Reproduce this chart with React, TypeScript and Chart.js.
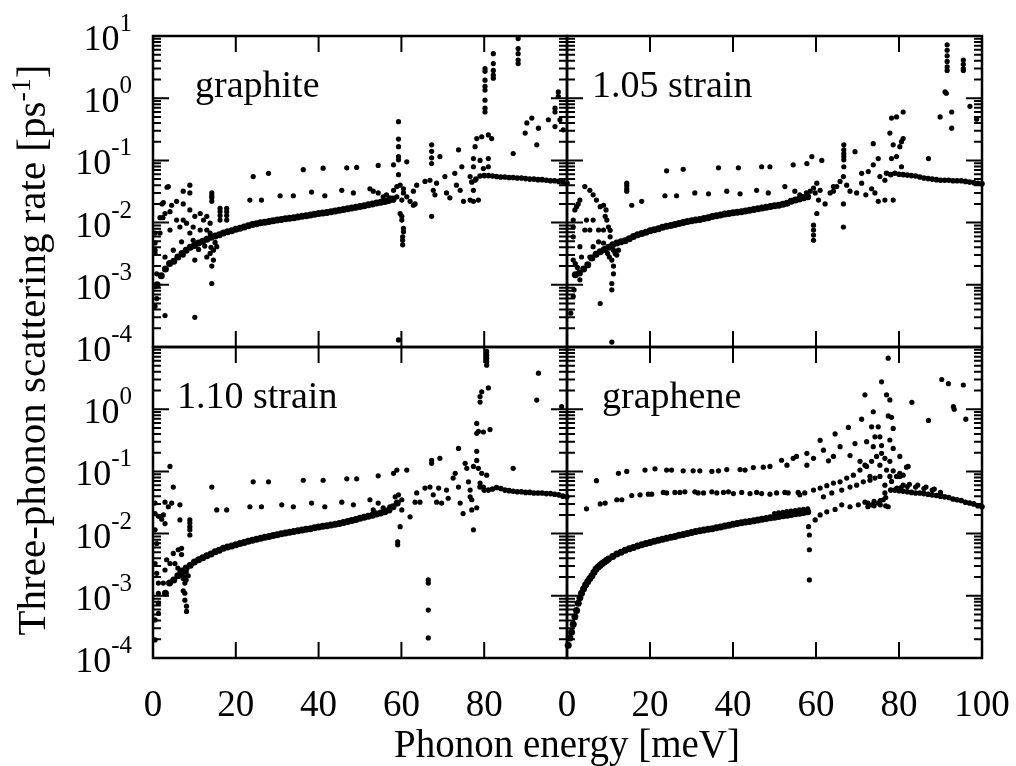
import React, { useEffect, useRef } from "react";
import { Chart, registerables } from "chart.js";

Chart.register(...registerables);

type P = [number, number];

const FONT = '"Liberation Serif", "Times New Roman", serif';

const xTickValues = [0, 20, 40, 60, 80, 100];
const xLabelsLeft = [0, 20, 40, 60, 80];
const xLabelsRight = [0, 20, 40, 60, 80, 100];
const yExponentsTop = [1, 0, -1, -2, -3, -4];
const yExponentsBottom = [0, -1, -2, -3, -4];
const panelNames = ["graphite", "1.05 strain", "1.10 strain", "graphene"];
const xTitle = "Phonon energy [meV]";
const yTitleMain = "Three-phonon scattering rate [ps";
const yTitleSup = "-1";
const yTitleEnd = "]";

// ---------------- graphite ----------------
const graphiteMain: P[] = [[1,1.0e-3],[2,1.4e-3],[3,1.8e-3],[4,2.2e-3],[5,2.4e-3],[6,2.8e-3],[7,3.2e-3],[8,3.6e-3],[9,4.0e-3],[10,4.3e-3],[11,4.7e-3],[12,5.0e-3],[13,5.4e-3],[14,5.8e-3],[15,6.1e-3],[16,6.4e-3],[17,6.8e-3],[18,7.1e-3],[19,7.4e-3],[20,7.8e-3],[21,8.1e-3],[22,8.5e-3],[23,8.9e-3],[24,9.3e-3],[25,9.6e-3],[26,9.9e-3],[27,1.01e-2],[28,1.04e-2],[29,1.07e-2],[30,1.1e-2],[31,1.12e-2],[32,1.15e-2],[33,1.18e-2],[34,1.2e-2],[35,1.23e-2],[36,1.26e-2],[37,1.29e-2],[38,1.32e-2],[39,1.36e-2],[40,1.4e-2],[41,1.43e-2],[42,1.46e-2],[43,1.49e-2],[44,1.53e-2],[45,1.58e-2],[46,1.62e-2],[47,1.67e-2],[48,1.72e-2],[49,1.77e-2],[50,1.82e-2],[51,1.87e-2],[52,1.93e-2],[53,1.99e-2],[54,2.06e-2],[55,2.12e-2],[56,2.18e-2],[57,2.28e-2],[58,2.4e-2]];
const graphiteFlat: P[] = [[77,0.045],[78,0.05],[79,0.056],[80,0.057],[81,0.057],[82,0.056],[83,0.055],[84,0.054],[85,0.054],[86,0.053],[87,0.053],[88,0.052],[89,0.052],[90,0.051],[91,0.05],[92,0.05],[93,0.049],[94,0.049],[95,0.048],[96,0.047],[97,0.047],[98,0.046],[99,0.045],[100,0.043]];
const graphiteScatter: P[] = [
  [3.7,0.038],[7.3,0.032],[8.9,0.04],[8.9,0.03],[5.7,0.022],[2.5,0.021],[4.5,0.019],[7.3,0.02],[4.1,0.015],[2.9,0.014],[1.7,0.012],[5.7,0.011],[7.3,0.011],[8.9,0.016],[10.1,0.0126],[11.4,0.014],[12.2,0.011],[13.0,0.0126],[13.8,0.0098],[6.5,0.0085],[8.1,0.0098],[9.7,0.0085],[4.1,0.0076],[1.7,0.0068],[0.5,0.0068],[8.9,0.0068],[11.4,0.0076],[13.0,0.0076],[13.8,0.0068],
  [2.2,0.02],[2.4,0.012],[3.4,0.037],
  [14.2,0.03],[14.2,0.027],[14.2,0.025],[14.2,0.022],[16.2,0.017],[16.2,0.015],[16.2,0.013],[16.2,0.011],[17.8,0.017],[17.8,0.015],[17.8,0.013],[17.8,0.011],
  [6.9,0.0049],[9.7,0.0052],[4.9,0.0036],[0.5,0.0032],[2.9,0.0028],[7.3,0.003],[10.1,0.0025],[13.0,0.0028],[13.8,0.0032],[14.6,0.0036],[15.4,0.0041],[14.6,0.0025],[14.2,0.002],[14.2,0.00105],[0.5,0.0047],[0.5,0.0036],[0.9,0.0015],[0.5,4.5e-4],[2.9,3.2e-4],[10.1,3.0e-4],[0.9,6e-4],[0.5,9.3e-4],
  [12.5,0.0042],[11.0,0.0037],[15.0,0.0048],[14.0,0.004],
  [24.2,0.055],[27.9,0.062],[36.3,0.071],[41.1,0.075],[46.8,0.076],[49.2,0.077],[54.4,0.083],[58.1,0.085],
  [23.4,0.023],[26.2,0.023],[30.7,0.027],[33.9,0.027],[38.3,0.031],[41.5,0.027],[45.6,0.033],[48.4,0.03],[52.4,0.035],
  [53.2,0.032],[54.4,0.03],[55.6,0.026],[56.4,0.028],[57.2,0.025],[58.1,0.033],[58.9,0.038],[59.7,0.04],[60.5,0.035],[60.5,0.03],[61.3,0.026],[62.1,0.022],[62.9,0.019],[58.1,0.023],[56.8,0.022],[58.9,0.026],[60.1,0.023],
  [59.3,0.42],[59.3,0.22],[59.3,0.166],[59.3,0.115],[59.3,0.102],[59.3,0.059],[61.3,0.095],
  [59.7,0.014],[60.1,0.0126],[60.1,0.011],[60.5,0.0081],[60.5,0.0071],[60.3,0.0059],[60.3,0.0052],[60.3,0.0044],[59.3,1.3e-4],
  [63.7,0.04],[62.9,0.032],[63.3,0.02],[65.7,0.046],[66.9,0.048],[67.7,0.033],[68.5,0.043],[67.3,0.0126],[68.1,0.028],[70.5,0.055],[70.9,0.03],[71.7,0.025],[72.9,0.062],[73.3,0.04],[74.2,0.033],[74.6,0.079],[75.0,0.022],[76.6,0.023],[77.4,0.022],[78.6,0.023],[77.4,0.033],[77.8,0.048],[76.6,0.055],
  [67.3,0.178],[67.3,0.14],[67.3,0.11],[67.3,0.089],[69.3,0.115],[73.8,0.148],
  [77.4,0.107],[79.0,0.1],[81.0,0.107],[77.8,0.166],[78.2,0.224],[79.4,0.24],[81.0,0.257],[81.8,0.224],[77.4,0.079],[79.8,0.074],[81.0,0.079],
  [80.2,3.0],[80.2,2.7],[80.2,1.95],[80.2,1.55],[80.2,1.35],[80.2,0.93],[80.2,0.69],[80.2,0.6],
  [82.2,5.2],[82.2,3.6],[82.2,2.8],[82.2,2.35],[82.2,2.1],
  [88.2,9.1],[88.2,6.3],[88.2,5.2],[88.2,4.1],[88.2,3.6],
  [87.0,0.129],[89.9,0.275],[90.3,0.4],[91.5,0.48],[92.7,0.178],[93.1,0.33],[95.5,0.45],[97.1,0.35],[97.1,0.69],[97.1,0.6],[97.9,1.26],[97.9,1.07],[99.1,0.31],[98.3,0.45]
];

// ---------------- 1.05 strain ----------------
const strain105Main: P[] = [[2,1.45e-3],[3,1.55e-3],[4,1.8e-3],[5,2.1e-3],[6,2.7e-3],[7,3.1e-3],[8,3.4e-3],[9,3.7e-3],[10,4.0e-3],[11,4.4e-3],[12,4.7e-3],[13,4.9e-3],[14,5.1e-3],[15,5.5e-3],[16,6.0e-3],[17,6.4e-3],[18,6.7e-3],[19,7.0e-3],[20,7.4e-3],[21,7.7e-3],[22,8.0e-3],[23,8.4e-3],[24,8.7e-3],[25,9.0e-3],[26,9.3e-3],[27,9.7e-3],[28,1.0e-2],[29,1.04e-2],[30,1.07e-2],[31,1.1e-2],[32,1.12e-2],[33,1.16e-2],[34,1.2e-2],[35,1.25e-2],[36,1.29e-2],[37,1.33e-2],[38,1.37e-2],[39,1.4e-2],[40,1.44e-2],[41,1.47e-2],[42,1.5e-2],[43,1.54e-2],[44,1.58e-2],[45,1.62e-2],[46,1.67e-2],[47,1.72e-2],[48,1.77e-2],[49,1.82e-2],[50,1.86e-2],[51,1.9e-2],[52,1.97e-2],[53,2.05e-2],[54,2.2e-2],[55,2.3e-2],[56,2.4e-2],[57,2.5e-2],[58,2.6e-2]];
const strain105Flat: P[] = [[77,0.062],[78,0.059],[79,0.062],[80,0.06],[81,0.059],[82,0.058],[83,0.057],[84,0.056],[85,0.054],[86,0.052],[87,0.051],[88,0.05],[89,0.049],[90,0.048],[91,0.048],[92,0.048],[93,0.047],[94,0.047],[95,0.047],[96,0.046],[97,0.045],[98,0.044],[99,0.043],[100,0.042]];
const strain105Scatter: P[] = [
  [1.5,0.011],[1.9,0.016],[2.7,0.02],[3.1,0.023],[4.3,0.038],[5.5,0.033],[6.3,0.028],[7.1,0.023],[8.0,0.018],[8.8,0.019],[9.2,0.0126],[9.6,0.011],[10.0,0.0085],[10.4,0.0059],[6.3,0.011],[4.7,0.011],[5.5,0.0076],[7.6,0.0076],[8.8,0.0076],[4.3,0.0076],[3.1,0.0041],[3.5,0.0028],[6.3,0.0041],[7.6,0.0049],[8.8,0.0047],[5.5,0.0028],[3.1,0.0012],[1.7,8.3e-4],[1.5,6.5e-4],[0.9,3.5e-4],[11.2,0.0036],[10.8,0.0025],[11.2,0.002],[11.2,0.0015],[10.8,0.00105],[10.8,8.3e-4],[11.6,0.0032],[12.4,0.0036],[8.0,5.0e-4],[10.8,1.2e-4],[1.5,0.0059],[1.5,0.0085],[1.5,0.0025],
  [2.3,0.018],[9.4,0.016],[10.4,0.0075],[2.0,0.0022],[2.5,0.0019],[9.8,0.0032],[10.2,0.0028],[12.0,0.003],
  [14.4,0.043],[14.4,0.039],[14.4,0.035],[14.4,0.032],[15.6,0.019],[18.0,0.022],
  [24.0,0.068],[28.0,0.072],[36.5,0.076],[41.3,0.076],[46.9,0.079],[48.9,0.079],[54.5,0.085],[57.8,0.089],[59.0,0.115],[61.4,0.1],
  [23.6,0.027],[26.4,0.027],[30.8,0.03],[34.1,0.029],[38.5,0.032],[41.7,0.029],[45.7,0.033],[48.5,0.03],[52.5,0.038],
  [54.9,0.032],[56.1,0.028],[56.9,0.026],[57.7,0.03],[58.6,0.032],[59.4,0.036],[60.2,0.043],[59.8,0.03],[60.6,0.023],[61.0,0.033],[62.2,0.02],[63.4,0.03],[64.2,0.032],[65.0,0.038],
  [59.4,0.0091],[59.4,0.0076],[59.4,0.0063],[59.4,0.0052],[60.2,0.014],
  [66.7,0.178],[66.7,0.148],[66.7,0.129],[66.7,0.115],[66.7,0.102],[66.7,0.079],[69.4,0.138],[66.6,0.055],[66.6,0.02],[66.6,0.0085],
  [64.2,0.038],[65.8,0.046],[67.4,0.04],[68.2,0.032],[69.8,0.03],[71.0,0.043],[71.0,0.062],[72.6,0.066],[73.4,0.035],[74.2,0.03],[72.0,0.028],[73.8,0.085],[75.0,0.107],[75.4,0.055],[76.6,0.048],[75.0,0.022],[76.6,0.023],[78.6,0.023],[73.8,0.186],
  [78.2,0.107],[79.4,0.115],[80.6,0.079],[77.8,0.275],[78.6,0.178],[80.2,0.166],[80.6,0.2],[81.0,0.224],[78.2,0.48],[79.4,0.5],[81.0,0.6],
  [87.1,0.107],[89.9,0.5],[91.1,1.26],[91.4,1.2],[92.7,0.6],[92.7,0.33],[97.1,0.74],[98.7,0.46],
  [91.6,7.2],[91.6,5.9],[91.6,4.8],[91.6,3.9],[91.6,3.2],[91.6,2.8],[95.5,4.1],[95.5,3.5],[95.5,3.0],[95.5,2.8]
];

// ---------------- 1.10 strain ----------------
const strain110Main: P[] = [[3,1.1e-3],[4,1.6e-3],[5,1.8e-3],[6,2.1e-3],[7,2.5e-3],[8,2.8e-3],[9,3.1e-3],[10,3.5e-3],[11,3.8e-3],[12,4.1e-3],[13,4.4e-3],[14,4.7e-3],[15,5.1e-3],[16,5.4e-3],[17,5.8e-3],[18,6.1e-3],[19,6.3e-3],[20,6.6e-3],[21,6.9e-3],[22,7.2e-3],[23,7.5e-3],[24,7.8e-3],[25,8.1e-3],[26,8.4e-3],[27,8.7e-3],[28,9.0e-3],[29,9.3e-3],[30,9.6e-3],[31,9.9e-3],[32,1.02e-2],[33,1.05e-2],[34,1.08e-2],[35,1.11e-2],[36,1.14e-2],[37,1.17e-2],[38,1.2e-2],[39,1.24e-2],[40,1.28e-2],[41,1.31e-2],[42,1.34e-2],[43,1.37e-2],[44,1.41e-2],[45,1.46e-2],[46,1.51e-2],[47,1.57e-2],[48,1.63e-2],[49,1.69e-2],[50,1.76e-2],[51,1.83e-2],[52,1.9e-2],[53,1.98e-2],[54,2.06e-2],[55,2.15e-2],[56,2.24e-2],[57,2.4e-2],[58,2.7e-2],[59,3.1e-2]];
const strain110Flat: P[] = [[79,0.056],[80,0.05],[81,0.05],[82,0.052],[83,0.055],[84,0.053],[85,0.05],[86,0.049],[87,0.048],[88,0.047],[89,0.047],[90,0.046],[91,0.046],[92,0.045],[93,0.045],[94,0.045],[95,0.044],[96,0.044],[97,0.043],[98,0.042],[99,0.04],[100,0.039]];
const strain110Scatter: P[] = [
  [0.5,0.031],[0.5,0.021],[1.3,0.019],[2.1,0.017],[2.5,0.02],[2.9,0.0145],[0.5,0.0115],[0.9,0.0069],[0.5,0.0033],[0.9,0.0023],[1.3,0.0016],[1.3,0.0011],[1.3,7.6e-4],[1.3,5.2e-4],[0.5,4.1e-4],[0.5,1.95e-4],
  [4.1,0.12],[4.9,0.056],[4.5,0.031],[3.7,0.027],[2.9,0.032],[6.5,0.029],[6.5,0.0166],[8.9,0.0166],[8.9,0.0148],[8.9,0.0129],[8.9,0.0115],[8.9,0.0095],
  [4.9,0.0048],[6.1,0.0055],[6.9,0.0058],[6.9,0.0046],[3.3,0.0038],[4.1,0.0033],[2.9,0.0026],[2.5,0.0016],[5.3,0.0033],[7.3,0.0012],[7.7,0.0011],[7.7,8.5e-4],[8.1,6.8e-4],[8.1,5.6e-4],[7.7,0.0016],[7.3,0.0019],
  [6.5,0.0025],[7.0,0.0022],[7.5,0.002],[8.0,0.0024],[8.5,0.0021],[6.0,0.0028],[8.0,0.0018],
  [14.2,0.056],[15.4,0.024],[17.8,0.024],
  [24.2,0.068],[27.9,0.068],[36.3,0.072],[41.1,0.072],[46.8,0.076],[49.2,0.076],[54.4,0.085],[58.1,0.093],[58.9,0.105],[61.3,0.105],
  [23.4,0.027],[26.2,0.027],[31.1,0.029],[33.9,0.027],[38.3,0.031],[41.5,0.027],[45.6,0.032],[48.4,0.029],[52.4,0.035],[54.4,0.031],[53.2,0.024],[55.6,0.026],[57.2,0.027],[58.5,0.039],[59.3,0.042],[60.1,0.035],[60.1,0.024],[59.7,0.0129],[59.1,0.0074],[59.1,0.0066],
  [62.1,0.0186],[63.3,0.032],[63.7,0.045],[64.5,0.032],[65.7,0.054],[66.9,0.056],[67.7,0.042],[68.5,0.032],[69.7,0.031],[69.0,0.054],[70.9,0.05],[71.3,0.037],[72.5,0.078],[73.0,0.093],[73.8,0.056],[74.2,0.031],[74.9,0.021],[75.4,0.135],[75.8,0.112],[76.2,0.068],[76.6,0.05],[76.6,0.039],[77.0,0.035],[77.0,0.024],[77.4,0.0115],[78.2,0.026],
  [67.3,0.151],[67.3,0.135],[69.3,0.162],[73.8,0.234],[66.5,0.0018],[66.5,0.0016],[66.5,5.9e-4],[66.5,2.1e-4],
  [80.6,8.5],[80.6,7.4],[80.6,6.6],[80.6,5.8],[80.6,5.1],[81.0,2.2],[79.4,1.9],[79.0,1.6],[79.0,1.3],[78.2,0.59],[78.2,0.41],[78.6,0.44],[79.8,0.43],[81.4,0.47],[78.2,0.21],[78.2,0.15],[77.4,0.12],[78.6,0.112],[79.4,0.093],[80.6,0.087],[79.0,0.065],[79.8,0.056],
  [87.0,0.112],[93.1,3.8],[92.7,1.4],[98.7,1.1]
];

// ---------------- graphene ----------------
const grapheneMain: P[] = [[0.3,1.6e-4],[0.7,2.1e-4],[1.1,2.6e-4],[1.5,3.5e-4],[1.9,4.6e-4],[2.3,5.8e-4],[2.7,7.6e-4],[3.1,9.3e-4],[3.5,1.1e-3],[4.0,1.3e-3],[4.5,1.5e-3],[5.0,1.7e-3],[5.5,1.9e-3],[6.0,2.1e-3],[6.5,2.4e-3],[7.0,2.7e-3],[7.5,2.9e-3],[8,3.1e-3],[8.5,3.3e-3],[9,3.5e-3],[9.5,3.7e-3],[10,3.9e-3],[11,4.3e-3],[12,4.7e-3],[13,5.0e-3],[14,5.4e-3],[15,5.7e-3],[16,6.0e-3],[17,6.3e-3],[18,6.6e-3],[19,6.9e-3],[20,7.2e-3],[21,7.5e-3],[22,7.8e-3],[23,8.1e-3],[24,8.4e-3],[25,8.7e-3],[26,9.0e-3],[27,9.4e-3],[28,9.7e-3],[29,1.0e-2],[30,1.04e-2],[31,1.08e-2],[32,1.11e-2],[33,1.14e-2],[34,1.17e-2],[35,1.2e-2],[36,1.24e-2],[37,1.28e-2],[38,1.32e-2],[39,1.36e-2],[40,1.41e-2],[41,1.45e-2],[42,1.49e-2],[43,1.53e-2],[44,1.57e-2],[45,1.61e-2],[46,1.66e-2],[47,1.7e-2],[48,1.75e-2],[49,1.79e-2],[50,1.83e-2],[51,1.88e-2],[52,1.93e-2],[53,1.98e-2],[54,2.03e-2],[55,2.08e-2],[56,2.13e-2],[57,2.18e-2],[58,2.24e-2]];
const grapheneFlat: P[] = [[78,0.05],[79,0.05],[80,0.049],[81,0.048],[82,0.047],[83,0.046],[84,0.045],[85,0.045],[86,0.044],[87,0.043],[88,0.042],[89,0.041],[90,0.04],[91,0.039],[92,0.038],[93,0.036],[94,0.035],[95,0.034],[96,0.032],[97,0.031],[98,0.03],[99,0.028],[100,0.027]];
const grapheneScatter: P[] = [
  [50,0.021],[51,0.0215],[52,0.022],[53,0.0225],[54,0.023],[55,0.0235],[56,0.024],[57,0.0245],[58,0.025],[55.5,0.0225],[56.5,0.023],[57.5,0.0235],
  [79.5,0.054],[80.5,0.055],[81,0.06],[82,0.057],[82.5,0.062],[84,0.056],[84.5,0.06],[86,0.053],[86.5,0.056],[88,0.05],[88.5,0.052],[90,0.046],
  [4.7,0.025],[8.0,0.03],[9.2,0.031],[12.0,0.035],[13.2,0.035],[15.6,0.041],[17.6,0.042],[19.6,0.043],[20.4,0.043],[23.2,0.046],[24.0,0.045],[26.0,0.046],[27.2,0.046],[28.4,0.047],[30.8,0.047],[31.6,0.045],[32.9,0.045],[34.9,0.047],[36.1,0.045],[37.7,0.046],[38.9,0.047],[40.1,0.044],[42.1,0.046],[44.1,0.044],[45.7,0.046],[46.9,0.044],[48.9,0.043],[50.5,0.045],[52.5,0.046],[53.3,0.045],[55.7,0.046],[56.1,0.042],[57.3,0.045],
  [59.4,0.05],[61.0,0.054],[62.6,0.059],[64.2,0.065],[65.8,0.068],[67.4,0.078],[69.0,0.087],[70.6,0.105],[72.2,0.12],[73.4,0.145],[74.6,0.174],[75.8,0.195],[73.8,0.25],[76.6,0.162],[77.8,0.145],
  [61.8,0.039],[63.8,0.045],[66.2,0.05],[68.2,0.056],[69.8,0.06],[71.4,0.068],[73.0,0.072],[74.2,0.078],[75.4,0.083],[70.6,0.145],[71.8,0.126],[73.0,0.083],[75.4,0.126],[77.0,0.105],[77.8,0.083],[78.2,0.069],[78.6,0.102],[79.4,0.083],[80.2,0.093],[81.0,0.087],[82.2,0.12],[81.8,0.117],[80.2,0.083],
  [59.8,0.0166],[61.0,0.02],[62.6,0.0224],[64.6,0.0245],[66.2,0.029],[68.2,0.027],[70.2,0.029],[71.8,0.032],[73.4,0.029],[75.0,0.031],[76.2,0.035],[77.4,0.027],[76.6,0.045],[76.6,0.06],
  [72.5,0.027],[72.5,0.031],[74,0.028],[74,0.033],[75.5,0.029],[75.5,0.034],[76.8,0.028],[76.8,0.038],
  [58.2,0.0129],[58.4,0.0095],[58.4,0.0055],[58.4,0.0018],
  [7.1,0.071],[12.4,0.093],[14.4,0.1],[18.8,0.105],[21.2,0.11],[24.0,0.105],[25.2,0.105],[28.0,0.102],[30.4,0.102],[32.0,0.102],[34.9,0.1],[36.5,0.102],[38.5,0.107],[41.7,0.107],[42.9,0.105],[44.9,0.115],[47.3,0.117],[48.9,0.12],[51.7,0.151],[53.0,0.126],[54.5,0.162],[55.3,0.174],[57.8,0.195],[57.8,0.126],[59.4,0.162],[61.8,0.219],[63.0,0.148],[64.2,0.174],[61.0,0.316],[64.6,0.4],[65.8,0.25],[67.8,0.51],[68.2,0.18],[69.4,0.28],[71.0,0.69],[71.8,1.7],[72.2,0.3],[73.4,0.52],[73.8,0.91],[74.2,0.36],[75.0,0.52],[75.4,0.36],[75.8,2.75],[75.8,0.26],[77.0,1.7],[77.4,6.6],[77.8,1.41],[77.4,0.78],[78.2,0.74],[78.6,0.49],[77.8,0.32],[78.6,0.234],[80.2,0.174],[83.1,1.29],[87.1,0.66],[90.3,3.0],[91.9,2.57],[93.1,1.1],[93.3,1.0],[95.5,2.45],[96.1,0.69]
];

type Panel = {
  name: string;
  area: { l: number; t: number; r: number; b: number };
  main: P[];
  flat: P[];
  scatter: P[];
  yExps: number[];
  xLabels: number[];
  labelPos: [number, number];
  yTitle?: boolean;
  xTitle?: boolean;
};

const panels: Panel[] = [
  { name: panelNames[0], area: { l: 153, t: 36, r: 567, b: 347 }, main: graphiteMain, flat: graphiteFlat, scatter: graphiteScatter, yExps: yExponentsTop, xLabels: [], labelPos: [195, 97], yTitle: true },
  { name: panelNames[1], area: { l: 567, t: 36, r: 982, b: 347 }, main: strain105Main, flat: strain105Flat, scatter: strain105Scatter, yExps: [], xLabels: [], labelPos: [592, 97] },
  { name: panelNames[2], area: { l: 153, t: 347, r: 567, b: 658 }, main: strain110Main, flat: strain110Flat, scatter: strain110Scatter, yExps: yExponentsBottom, xLabels: xLabelsLeft, labelPos: [177, 408] },
  { name: panelNames[3], area: { l: 567, t: 347, r: 982, b: 658 }, main: grapheneMain, flat: grapheneFlat, scatter: grapheneScatter, yExps: [], xLabels: xLabelsRight, labelPos: [602, 408], xTitle: true },
];

function makeFrame(p: Panel) {
  return {
    id: "frame" + p.name.replace(/[^a-z0-9]/gi, ""),
    afterDatasetsDraw(chart: any) {
      const ctx: CanvasRenderingContext2D = chart.ctx;
      const a = chart.chartArea;
      const xs = chart.scales.x;
      const ys = chart.scales.y;
      ctx.save();
      ctx.strokeStyle = "#000";
      ctx.fillStyle = "#000";
      ctx.lineWidth = 2;
      ctx.beginPath();
      for (const v of xTickValues) {
        const px = xs.getPixelForValue(v);
        ctx.moveTo(px, a.bottom);
        ctx.lineTo(px, a.bottom - 16);
        ctx.moveTo(px, a.top);
        ctx.lineTo(px, a.top + 16);
      }
      for (let d = -4; d <= 1; d++) {
        const base = Math.pow(10, d);
        const py = ys.getPixelForValue(base);
        ctx.moveTo(a.left, py);
        ctx.lineTo(a.left + 16, py);
        ctx.moveTo(a.right, py);
        ctx.lineTo(a.right - 16, py);
        if (d < 1) {
          for (let m = 2; m <= 9; m++) {
            const pm = ys.getPixelForValue(m * base);
            ctx.moveTo(a.left, pm);
            ctx.lineTo(a.left + 8, pm);
            ctx.moveTo(a.right, pm);
            ctx.lineTo(a.right - 8, pm);
          }
        }
      }
      ctx.stroke();
      ctx.lineWidth = 2.5;
      ctx.strokeRect(a.left, a.top, a.right - a.left, a.bottom - a.top);

      ctx.textBaseline = "alphabetic";
      // y tick labels
      for (const e of p.yExps) {
        const py = ys.getPixelForValue(Math.pow(10, e));
        const sup = e < 0 ? "-" + Math.abs(e) : String(e);
        ctx.font = `36px ${FONT}`;
        const wb = ctx.measureText("10").width;
        ctx.font = `25px ${FONT}`;
        const ws = ctx.measureText(sup).width;
        const x0 = a.left - 21 - ws - wb;
        ctx.textAlign = "left";
        ctx.font = `36px ${FONT}`;
        ctx.fillText("10", x0, py + 14);
        ctx.font = `25px ${FONT}`;
        ctx.fillText(sup, x0 + wb, py - 5);
      }
      // x tick labels
      ctx.font = `37px ${FONT}`;
      ctx.textAlign = "center";
      for (const v of p.xLabels) {
        ctx.fillText(String(v), xs.getPixelForValue(v), 716);
      }
      // panel label
      ctx.textAlign = "left";
      ctx.font = `38px ${FONT}`;
      ctx.fillText(p.name, p.labelPos[0], p.labelPos[1]);

      if (p.xTitle) {
        ctx.textAlign = "center";
        ctx.font = `39px ${FONT}`;
        ctx.fillText(xTitle, 567, 757);
      }
      if (p.yTitle) {
        ctx.save();
        ctx.translate(45, 350);
        ctx.rotate(-Math.PI / 2);
        ctx.textAlign = "left";
        ctx.font = `41px ${FONT}`;
        const w1 = ctx.measureText(yTitleMain).width;
        const w3 = ctx.measureText(yTitleEnd).width;
        ctx.font = `28px ${FONT}`;
        const w2 = ctx.measureText(yTitleSup).width;
        const start = -(w1 + w2 + w3) / 2;
        ctx.font = `41px ${FONT}`;
        ctx.fillText(yTitleMain, start, 0);
        ctx.font = `28px ${FONT}`;
        ctx.fillText(yTitleSup, start + w1, -15);
        ctx.font = `41px ${FONT}`;
        ctx.fillText(yTitleEnd, start + w1 + w2, 0);
        ctx.restore();
      }
      ctx.restore();
    },
  };
}

function toXY(pts: P[]) {
  return pts.map(([x, y]) => ({ x, y }));
}

export default function App() {
  const refs = [useRef<HTMLCanvasElement>(null), useRef<HTMLCanvasElement>(null), useRef<HTMLCanvasElement>(null), useRef<HTMLCanvasElement>(null)];

  useEffect(() => {
    const charts: Chart[] = [];
    panels.forEach((p, i) => {
      const c = refs[i].current;
      if (!c) return;
      const ds = (pts: P[], r: number) => ({
        data: toXY(pts),
        pointRadius: r,
        pointHoverRadius: r,
        pointBackgroundColor: "#000",
        pointBorderWidth: 0,
        borderColor: "#000",
        backgroundColor: "#000",
        showLine: false,
        clip: 10,
      });
      const chart = new Chart(c, {
        type: "scatter",
        data: {
          datasets: [ds(p.main, 3.5), ds(p.flat, 2.8), ds(p.scatter, 2.6)] as any,
        },
        options: {
          responsive: false,
          animation: false,
          devicePixelRatio: 1,
          events: [],
          layout: {
            autoPadding: false,
            padding: { left: p.area.l, top: p.area.t, right: 1016 - p.area.r, bottom: 766 - p.area.b },
          },
          plugins: { legend: { display: false }, tooltip: { enabled: false }, title: { display: false } },
          scales: {
            x: { type: "linear", min: 0, max: 100, display: false },
            y: { type: "logarithmic", min: 1e-4, max: 10, display: false },
          },
        } as any,
        plugins: [makeFrame(p)],
      });
      charts.push(chart);
    });
    return () => charts.forEach((ch) => ch.destroy());
  }, []);

  return (
    <div style={{ position: "absolute", left: 0, top: 0, width: 1016, height: 766, background: "#fff" }}>
      {refs.map((r, i) => (
        <canvas key={i} ref={r} width={1016} height={766} style={{ position: "absolute", left: 0, top: 0 }} />
      ))}
    </div>
  );
}
